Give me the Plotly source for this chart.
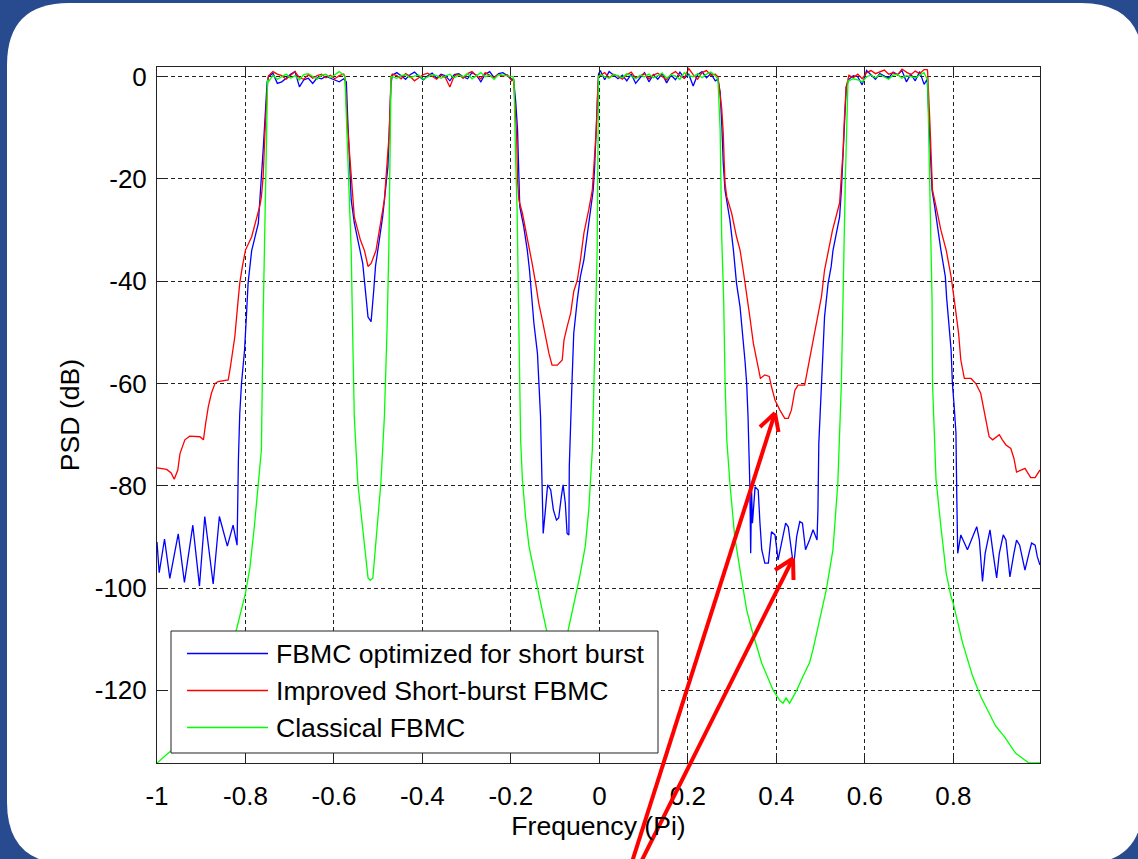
import plotly.graph_objects as go

# ---------------- data ----------------
x_tick_vals = [-1, -0.8, -0.6, -0.4, -0.2, 0, 0.2, 0.4, 0.6, 0.8]
x_tick_text = ["-1", "-0.8", "-0.6", "-0.4", "-0.2", "0", "0.2", "0.4", "0.6", "0.8"]
y_tick_vals = [0, -20, -40, -60, -80, -100, -120]
y_tick_text = ["0", "-20", "-40", "-60", "-80", "-100", "-120"]

series_names = ["FBMC optimized for short burst", "Improved Short-burst FBMC", "Classical FBMC"]
series_colors = ["#0000ff", "#ff0000", "#00ff00"]

# pass-band frequency samples (shared)
band1_x = [-0.748, -0.738, -0.728, -0.718, -0.708, -0.698, -0.688, -0.678, -0.668, -0.658,
           -0.648, -0.638, -0.628, -0.618, -0.608, -0.598, -0.588, -0.578]
band2_x = [-0.468, -0.458, -0.448, -0.438, -0.428, -0.418, -0.408, -0.398, -0.388, -0.378,
           -0.368, -0.358, -0.348, -0.338, -0.328, -0.318, -0.308, -0.298, -0.288, -0.278,
           -0.268, -0.258, -0.248, -0.238, -0.228, -0.218, -0.208, -0.198]
band3_x = [0.002, 0.012, 0.022, 0.032, 0.042, 0.052, 0.062, 0.072, 0.082, 0.092,
           0.102, 0.112, 0.122, 0.132, 0.142, 0.152, 0.162, 0.172, 0.182, 0.192,
           0.202, 0.212, 0.222, 0.232, 0.242, 0.252, 0.262]
band4_x = [0.564, 0.574, 0.584, 0.594, 0.604, 0.614, 0.624, 0.634, 0.644, 0.654,
           0.664, 0.674, 0.684, 0.694, 0.704, 0.714, 0.724, 0.734]

# ---- Blue: FBMC optimized for short burst ----
blue_left_x = [-1.0, -0.995, -0.983, -0.971, -0.952, -0.938, -0.919, -0.904, -0.892, -0.873,
               -0.859, -0.841, -0.828, -0.819, -0.816, -0.813, -0.809, -0.802, -0.798, -0.794,
               -0.786, -0.771, -0.760, -0.756, -0.751]
blue_left_y = [-91, -97, -90.4, -98.1, -89.4, -98.9, -87.7, -99.6, -86, -99.2,
               -86, -91.8, -87.7, -91.6, -75, -66, -60, -53.4, -47, -40.3,
               -34, -28.7, -14.3, -7.8, -1.0]
blue_band1 = [0.0, 0.7, -1.3, -1.0, -0.3, 0.5, 1.0, -2.0, -0.6, -0.3, -1.3, -0.2, -0.4, 0.1, -0.3, -0.6, -1.0, -0.4]
blue_gap12_x = [-0.572, -0.569, -0.561, -0.554, -0.542, -0.535, -0.523, -0.516, -0.510, -0.506,
                -0.501, -0.490, -0.478, -0.475, -0.471]
blue_gap12_y = [-1.0, -8, -24.1, -28.6, -33.2, -36.5, -47, -47.9, -41.7, -37,
                -34, -27.4, -17.6, -11, -1.3]
blue_band2 = [0.3, 0.8, 0.2, -0.5, 0.4, 0.9, 0.1, -0.6, 0.2, 0.7, -0.3, 0.5, 0.2, -0.8, 0.4,
              0.6, 0.0, -0.4, 0.8, 0.3, -1.0, 0.5, 1.0, -0.2, 0.6, 0.8, 0.2, -0.5]
blue_gap23_x = [-0.194, -0.189, -0.185, -0.183, -0.182, -0.180, -0.171, -0.163, -0.158, -0.152,
                -0.148, -0.140, -0.137, -0.133, -0.131, -0.129, -0.127, -0.122, -0.117, -0.110,
                -0.104, -0.097, -0.092, -0.086, -0.082, -0.077, -0.073, -0.069, -0.068, -0.062,
                -0.058, -0.050, -0.043, -0.035, -0.028, -0.020, -0.014, -0.011, -0.007, -0.005,
                -0.002]
blue_gap23_y = [-0.5, -5, -10.4, -15, -20.8, -25.4, -29.3, -33.9, -37.8, -43.7,
                -48.2, -54.1, -60, -66.5, -74.3, -82.1, -89.3, -84.7, -79.8, -80.8,
                -84.7, -86.7, -86.3, -82.1, -79.8, -83.4, -89.3, -89.6, -76.2, -60,
                -50.2, -43.7, -39.1, -35.8, -31.3, -26, -22.2, -18.2, -11, -4.6,
                0.5]
blue_band3 = [1.2, -0.6, 1.0, 0.2, -0.4, 0.3, -0.8, 0.5, -1.3, -0.2, 0.8, -1.0, 0.4, -0.5,
              0.6, -1.2, 0.3, -0.6, 0.9, -0.3, 0.5, -1.8, 0.4, 1.0, -0.2, 0.6, -0.8]
blue_gap34_x = [0.268, 0.273, 0.277, 0.280, 0.284, 0.288, 0.295, 0.303, 0.310, 0.318,
                0.325, 0.329, 0.333, 0.336, 0.340, 0.342, 0.344, 0.346, 0.352, 0.359,
                0.363, 0.367, 0.374, 0.382, 0.389, 0.397, 0.404, 0.412, 0.421, 0.427,
                0.434, 0.439, 0.446, 0.453, 0.459, 0.466, 0.475, 0.483, 0.492, 0.494,
                0.496, 0.502, 0.509, 0.517, 0.524, 0.528, 0.543, 0.547, 0.552, 0.558]
blue_gap34_y = [-0.5, -3, -10, -16.9, -22.2, -24.1, -28, -33.9, -40.4, -45,
                -50.8, -55.4, -60, -66.5, -79.5, -93.2, -80.8, -87.3, -80.2, -80.8,
                -87.3, -92.5, -95.1, -95.1, -89, -89.6, -94.5, -91.2, -87.3, -88,
                -92.5, -95.8, -89.9, -87, -87.3, -92.5, -90.6, -88.6, -90.6, -84.7,
                -71.7, -60, -46.9, -40.4, -37.1, -34, -27.4, -22.2, -12.4, -2]
blue_band4 = [-0.5, 0.2, 0.0, -1.6, 1.2, 0.3, -0.5, 0.6, 0.2, -0.3, 0.9, 0.4, 1.2, -1.0, 0.5, -0.8, 1.0, -1.5]
blue_right_x = [0.741, 0.746, 0.752, 0.757, 0.765, 0.772, 0.782, 0.785, 0.795, 0.798,
                0.802, 0.806, 0.808, 0.810, 0.817, 0.832, 0.844, 0.853, 0.859, 0.866,
                0.872, 0.883, 0.890, 0.898, 0.904, 0.913, 0.919, 0.928, 0.937, 0.943,
                0.950, 0.962, 0.971, 0.977, 0.985, 0.990, 0.996]
blue_right_y = [-0.5, -10.4, -22.2, -24.8, -30, -33.9, -39.1, -43.3, -53.4, -60,
                -64.5, -69.7, -82.7, -93.2, -89.6, -92.5, -89.9, -88, -90.6, -98.7,
                -93.2, -88.6, -93.2, -98, -93.2, -89.6, -90.6, -97.8, -93.2, -90.6,
                -91.6, -96.5, -93.2, -91.2, -91.6, -93.9, -95.5]

# ---- Red: Improved Short-burst FBMC ----
red_left_x = [-1.0, -0.978, -0.968, -0.961, -0.953, -0.948, -0.937, -0.926, -0.903, -0.895,
              -0.890, -0.884, -0.877, -0.869, -0.862, -0.839, -0.834, -0.828, -0.824, -0.818,
              -0.813, -0.807, -0.800, -0.786, -0.775, -0.768, -0.764, -0.760, -0.756, -0.753,
              -0.750]
red_left_y = [-76.5, -76.8, -77.5, -78.7, -76.9, -73.7, -71, -70.3, -70.4, -71,
              -67.8, -64.5, -61.9, -60, -59.6, -59.3, -56.7, -53.4, -50.8, -45,
              -40.4, -37.1, -33.9, -31.3, -28, -25.4, -23.5, -19.5, -11, -4.6,
              -1.3]
red_band1 = [0.2, 1.0, 0.5, 0.2, -0.5, 0.3, 1.0, -0.2, -0.5, 0.4, -0.3, 0.2, 0.5, -0.2, 0.3, -0.4, 0.2, 0.5]
red_gap12_x = [-0.575, -0.569, -0.561, -0.554, -0.540, -0.531, -0.523, -0.516, -0.505, -0.495,
               -0.486, -0.475, -0.471]
red_gap12_y = [0, -10, -20, -27.4, -32, -34, -37.1, -36.5, -34, -29,
               -24.1, -11, 0]
red_band2 = [0.5, 0.2, -0.4, 0.6, 0.1, -0.8, -0.2, 0.4, 0.7, 0.1, -0.5, 0.3, -0.2, -2.0, 0.2,
             0.5, -0.3, 0.6, 1.0, 0.2, -0.4, 0.8, 0.3, -0.2, 0.5, 0.1, 0.4, -0.8]
red_gap23_x = [-0.194, -0.191, -0.189, -0.187, -0.185, -0.182, -0.174, -0.163, -0.152, -0.144,
               -0.137, -0.129, -0.122, -0.114, -0.107, -0.095, -0.084, -0.080, -0.073, -0.065,
               -0.058, -0.050, -0.043, -0.035, -0.024, -0.016, -0.011, -0.007, -0.004, -0.002]
red_gap23_y = [-0.5, -5.2, -8.5, -11.7, -20.2, -24.1, -26.7, -31.3, -36.5, -40.4,
               -44.3, -47.6, -50.9, -54.1, -56.4, -56.4, -55.4, -51.5, -48.9, -46.3,
               -42, -39.8, -35.9, -30.6, -26, -22.2, -15.6, -10.4, -3, 0]
red_band3 = [0.3, 0.8, -0.2, 0.5, 0.1, -0.5, 0.4, 0.9, -0.3, 0.2, 0.6, -0.4, 0.3, 0.7, 0.0,
             -0.6, 0.5, 1.0, 0.2, -0.3, 1.6, 0.4, -0.5, 0.8, 1.2, 0.3, 0.5]
red_gap34_x = [0.268, 0.2765, 0.280, 0.282, 0.284, 0.288, 0.299, 0.310, 0.318, 0.325,
               0.333, 0.340, 0.348, 0.359, 0.364, 0.374, 0.384, 0.389, 0.397, 0.408,
               0.419, 0.427, 0.434, 0.442, 0.449, 0.464, 0.472, 0.479, 0.487, 0.494,
               0.502, 0.509, 0.517, 0.527, 0.543, 0.547, 0.551, 0.554, 0.558]
red_gap34_y = [0, -6.2, -11, -16.3, -20.8, -23.5, -26.7, -31.3, -33.9, -37.8,
               -42.4, -46.9, -52.1, -56.7, -59, -58.3, -58.6, -60.6, -63.2, -65.2,
               -66.8, -66.8, -65.2, -61.3, -60.3, -60.3, -56.7, -53.4, -50.2, -46.9,
               -43, -37.8, -34, -30, -24.7, -19.5, -14.3, -7.8, -2]
red_band4 = [0.3, -0.2, 0.5, -0.4, 0.8, 1.2, 0.6, 1.0, 1.3, 0.5, 0.8, 0.3, 1.5, 0.9, 0.4, 1.1, 0.6, 1.4]
red_right_x = [0.741, 0.742, 0.744, 0.7475, 0.750, 0.753, 0.761, 0.772, 0.784, 0.795,
               0.802, 0.812, 0.817, 0.825, 0.840, 0.851, 0.862, 0.870, 0.881, 0.889,
               0.904, 0.911, 0.919, 0.930, 0.937, 0.943, 0.953, 0.962, 0.975, 0.985,
               0.996]
red_right_y = [1.4, 1, -4.6, -9.8, -15.6, -22.2, -25.4, -30, -33.9, -39.1,
               -43.5, -50.2, -55.4, -59, -59, -60, -61.9, -65.8, -70.4, -71,
               -70, -71, -72, -72.7, -74.6, -77.3, -76.9, -76.6, -78.4, -78.4,
               -76.9]

# ---- Green: Classical FBMC ----
green_left_x = [-1.0, -0.971, -0.94, -0.91, -0.88, -0.85, -0.82, -0.80, -0.79, -0.78,
                -0.771, -0.764, -0.760, -0.755, -0.750]
green_left_y = [-134.2, -132, -130, -126.5, -122, -115, -108, -101, -96, -88,
                -79.5, -73, -47, -19.5, -0.6]
green_band1 = [-1.0, 0.3, -0.5, 0.0, 0.5, -0.3, 0.2, -0.6, 0.4, 0.6, 0.0, -0.5, 0.3, 0.5, -0.2, 0.4, 1.0, 0.3]
green_gap12_x = [-0.575, -0.572, -0.565, -0.561, -0.557, -0.554, -0.546, -0.531, -0.523, -0.518,
                 -0.512, -0.494, -0.486, -0.480, -0.476, -0.471]
green_gap12_y = [0, -7.8, -24.7, -34, -53.4, -66.5, -79.5, -92.5, -98, -98.5,
                 -98, -79.5, -66.5, -49.5, -34, 0]
green_band2 = [0.0, -0.3, 0.2, 0.4, -0.2, 0.1, 0.3, -0.5, 0.0, 0.4, 0.2, -0.3, 0.1, 0.5, -0.2,
               0.3, 0.0, 0.6, -0.4, 0.2, 0.8, 0.0, 0.3, -0.5, 0.4, 0.3, 0.1, 0.0]
green_gap23_x = [-0.195, -0.193, -0.189, -0.186, -0.183, -0.181, -0.178, -0.174, -0.167, -0.159,
                 -0.145, -0.130, -0.115, -0.095, -0.075, -0.060, -0.045, -0.032, -0.024, -0.016,
                 -0.009, -0.005, -0.002]
green_gap23_y = [0, -1.2, -17, -26, -43.7, -55.4, -71, -78.8, -86, -91.9,
                 -98, -104, -110, -114, -110, -104, -98, -91.9, -84.7, -73,
                 -48.9, -34, 0]
green_band3 = [0.5, 0.0, -0.3, 0.4, 0.2, -0.2, 0.6, 0.1, -0.4, 0.3, 0.0, 0.5, -0.2, 0.2, 0.7,
               -0.3, 0.4, 0.1, -0.5, 0.8, 0.2, 0.0, 0.6, -0.2, 0.5, 0.9, 0.2]
green_gap34_x = [0.268, 0.273, 0.2765, 0.281, 0.284, 0.288, 0.295, 0.306, 0.318, 0.333,
                 0.344, 0.367, 0.393, 0.408, 0.415, 0.422, 0.430, 0.446, 0.460, 0.475,
                 0.483, 0.491, 0.513, 0.528, 0.539, 0.547, 0.551, 0.556, 0.562]
green_gap34_y = [-0.5, -10.4, -31.3, -43.7, -59.3, -71, -79.5, -90, -96.5, -104.3,
                 -108, -114.7, -120, -122, -122.5, -121.5, -122.5, -120, -117.3, -114.6,
                 -112, -108.8, -100.3, -92.5, -79.5, -59.9, -40.3, -20, -0.7]
green_band4 = [-0.8, -0.4, -0.6, -1.0, 0.0, 0.3, -0.2, 0.4, 0.0, -0.5, 0.3, 0.5, -0.3, 0.2, 0.0, -0.2, 0.3, 0.8]
green_right_x = [0.742, 0.744, 0.7475, 0.750, 0.752, 0.753, 0.757, 0.761, 0.772, 0.784,
                 0.795, 0.800, 0.821, 0.844, 0.862, 0.896, 0.915, 0.941, 0.971, 0.996]
green_right_y = [-0.7, -9.8, -19.5, -31.3, -43.7, -60, -70.4, -78.8, -88, -97.1,
                 -101.7, -103, -110.7, -117.3, -121.2, -127, -129, -132.3, -134.2, -134.2]


def assemble(left_x, left_y, b1, g12x, g12y, b2, g23x, g23y, b3, g34x, g34y, b4, rx, ry):
    xs = left_x + band1_x + g12x + band2_x + g23x + band3_x + g34x + band4_x + rx
    ys = left_y + b1 + g12y + b2 + g23y + b3 + g34y + b4 + ry
    assert len(xs) == len(ys), (len(xs), len(ys))
    return xs, ys


blue_x, blue_y = assemble(blue_left_x, blue_left_y, blue_band1, blue_gap12_x, blue_gap12_y, blue_band2,
                          blue_gap23_x, blue_gap23_y, blue_band3, blue_gap34_x, blue_gap34_y, blue_band4,
                          blue_right_x, blue_right_y)
red_x, red_y = assemble(red_left_x, red_left_y, red_band1, red_gap12_x, red_gap12_y, red_band2,
                        red_gap23_x, red_gap23_y, red_band3, red_gap34_x, red_gap34_y, red_band4,
                        red_right_x, red_right_y)
green_x, green_y = assemble(green_left_x, green_left_y, green_band1, green_gap12_x, green_gap12_y, green_band2,
                            green_gap23_x, green_gap23_y, green_band3, green_gap34_x, green_gap34_y, green_band4,
                            green_right_x, green_right_y)

# ---------------- layout geometry (pixels) ----------------
W, H = 1138, 859
PL, PR, PT, PB = 157, 1040, 67, 763
FONT = "Liberation Sans, Arial, sans-serif"
BG = "#284a8e"


def px(x):
    return (x - PL) / (PR - PL)


def py(y):
    return (PB - y) / (PB - PT)


fig = go.Figure()
for xs, ys, name, col in [(blue_x, blue_y, series_names[0], series_colors[0]),
                          (red_x, red_y, series_names[1], series_colors[1]),
                          (green_x, green_y, series_names[2], series_colors[2])]:
    fig.add_trace(go.Scatter(x=xs, y=ys, mode="lines", name=name,
                             line=dict(color=col, width=1.3), showlegend=False))

shapes = []
# white rounded card on blue background
L_, R_, T_, B_, r = 7, 1143, 3, 864, 62
path = (f"M {px(L_ + r)},{py(T_)} L {px(R_ - r)},{py(T_)} "
        f"Q {px(R_)},{py(T_)} {px(R_)},{py(T_ + r)} "
        f"L {px(R_)},{py(B_ - r)} Q {px(R_)},{py(B_)} {px(R_ - r)},{py(B_)} "
        f"L {px(L_ + r)},{py(B_)} Q {px(L_)},{py(B_)} {px(L_)},{py(B_ - r)} "
        f"L {px(L_)},{py(T_ + r)} Q {px(L_)},{py(T_)} {px(L_ + r)},{py(T_)} Z")
shapes.append(dict(type="path", path=path, xref="paper", yref="paper",
                   fillcolor="white", line=dict(width=0), layer="below"))

# legend box (drawn manually to match MATLAB legend geometry)
shapes.append(dict(type="rect", xref="paper", yref="paper",
                   x0=px(171), x1=px(658), y0=py(753), y1=py(631),
                   fillcolor="white", line=dict(color="#222222", width=1), layer="above"))
rows_y = [653.5, 690.5, 727.5]
annotations = []
for ry, name, col in zip(rows_y, series_names, series_colors):
    shapes.append(dict(type="line", xref="paper", yref="paper",
                       x0=px(187), x1=px(268), y0=py(ry), y1=py(ry),
                       line=dict(color=col, width=1.3), layer="above"))
    annotations.append(dict(xref="paper", yref="paper", x=px(274), y=py(ry),
                            text=name, showarrow=False, xanchor="left", yanchor="middle",
                            font=dict(family=FONT, size=26.6, color="black")))

# red arrows (annotation graphics)
for tail, tip, w1, w2 in [((632, 862), (775, 413), (760, 427), (778.5, 432)),
                          ((641, 862), (793, 558.5), (775, 570), (793.5, 580))]:
    for a, b in [(tail, tip), (w1, tip), (w2, tip)]:
        shapes.append(dict(type="line", xref="paper", yref="paper",
                           x0=px(a[0]), y0=py(a[1]), x1=px(b[0]), y1=py(b[1]),
                           line=dict(color="#ff0000", width=4), layer="above"))

axis_common = dict(
    showline=True, linecolor="#222222", linewidth=1, mirror="ticks",
    ticks="inside", ticklen=8, tickcolor="#222222", tickwidth=1,
    showgrid=True, gridcolor="#222222", gridwidth=1, griddash="4px,3px",
    zeroline=False, tickfont=dict(family=FONT, size=26, color="black"),
    automargin=False,
)

fig.update_layout(
    width=W, height=H, autosize=False,
    margin=dict(l=PL, r=W - PR, t=PT, b=H - PB, pad=0),
    paper_bgcolor=BG, plot_bgcolor="white",
    shapes=shapes, annotations=annotations, showlegend=False,
    font=dict(family=FONT, size=26, color="black"),
    xaxis=dict(range=[-1, 0.996], tickmode="array", tickvals=x_tick_vals, ticktext=x_tick_text,
               title=dict(text="Frequency (Pi)", font=dict(family=FONT, size=26.6), standoff=0),
               ticklabelstandoff=10, **axis_common),
    yaxis=dict(range=[-134.2, 1.9], tickmode="array", tickvals=y_tick_vals, ticktext=y_tick_text,
               title=dict(text="PSD (dB)", font=dict(family=FONT, size=26.6), standoff=7),
               ticklabelstandoff=4, **axis_common),
)

fig.write_html("out.html", config={"displayModeBar": False},
               post_script=f"document.body.style.margin='0px';document.body.style.background='{BG}';")
